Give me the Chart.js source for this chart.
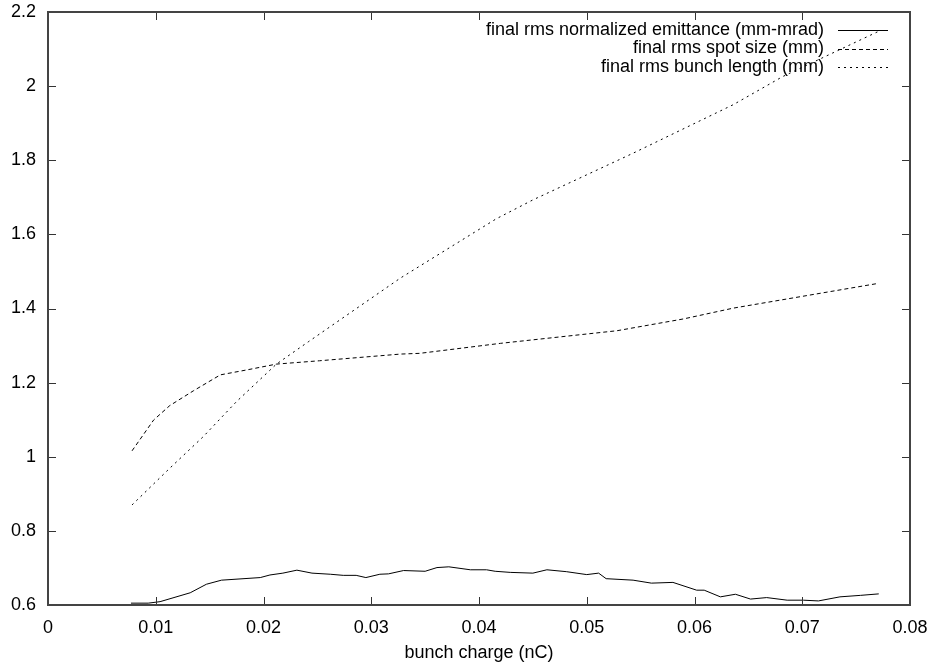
<!DOCTYPE html>
<html>
<head>
<meta charset="utf-8">
<script src="https://cdn.jsdelivr.net/npm/chart.js@4/dist/chart.umd.min.js"></script>
<style>
  html, body { margin: 0; padding: 0; background: #fff; }
  #wrap { width: 932px; height: 664px; }
</style>
</head>
<body>
<div id="wrap"><canvas id="chart" width="932" height="664"></canvas></div>
<script>
// values
const emitX = [0.0077, 0.0093, 0.0104, 0.0132, 0.0147, 0.0161, 0.0197, 0.0206, 0.0218, 0.0231, 0.0245, 0.0262, 0.0274, 0.0286, 0.0295, 0.0308, 0.0316, 0.0330, 0.0350, 0.0361, 0.0372, 0.0392, 0.0407, 0.0415, 0.0429, 0.0450, 0.0463, 0.0481, 0.0500, 0.0511, 0.0518, 0.0543, 0.0560, 0.0580, 0.0602, 0.0609, 0.0624, 0.0638, 0.0652, 0.0667, 0.0686, 0.0701, 0.0715, 0.0735, 0.0754, 0.0771];
const emitY = [0.605, 0.605, 0.609, 0.633, 0.656, 0.667, 0.674, 0.681, 0.686, 0.694, 0.686, 0.683, 0.680, 0.680, 0.674, 0.683, 0.684, 0.693, 0.691, 0.701, 0.703, 0.695, 0.695, 0.691, 0.688, 0.686, 0.695, 0.690, 0.682, 0.686, 0.671, 0.667, 0.659, 0.661, 0.640, 0.640, 0.622, 0.629, 0.616, 0.620, 0.613, 0.613, 0.611, 0.622, 0.626, 0.630];

const spotX = [0.0078, 0.0098, 0.0113, 0.0135, 0.0160, 0.0184, 0.0212, 0.0252, 0.0327, 0.0345, 0.0420, 0.0528, 0.0590, 0.0636, 0.0771];
const spotY = [1.016, 1.099, 1.138, 1.178, 1.221, 1.234, 1.250, 1.259, 1.277, 1.279, 1.306, 1.340, 1.372, 1.401, 1.468];

const bunchX = [0.0078, 0.0113, 0.0144, 0.0175, 0.0212, 0.0242, 0.0327, 0.0416, 0.0450, 0.0543, 0.0636, 0.0682, 0.0771];
const bunchY = [0.870, 0.969, 1.054, 1.149, 1.250, 1.311, 1.482, 1.642, 1.693, 1.819, 1.950, 2.026, 2.148];

const seriesNames = ['final rms normalized emittance (mm-mrad)', 'final rms spot size (mm)', 'final rms bunch length (mm)'];
const xTitle = 'bunch charge (nC)';

const FONT = '"Liberation Sans", Arial, Helvetica, sans-serif';
const FSIZE = 18;
const toPts = (xs, ys) => xs.map((x, i) => ({ x: x, y: ys[i] }));

// gnuplot style frame, inward ticks on all four sides, and the legend
const framePlugin = {
    id: 'frame',
    afterDatasetsDraw(chart) {
        const { ctx, chartArea: a, scales } = chart;
        const tl = 8;
        ctx.save();
        ctx.strokeStyle = '#333';
        ctx.lineWidth = 1;
        scales.x.ticks.forEach(t => {
            const px = Math.round(scales.x.getPixelForValue(t.value)) + 0.5;
            ctx.beginPath();
            ctx.moveTo(px, a.bottom); ctx.lineTo(px, a.bottom - tl);
            ctx.moveTo(px, a.top); ctx.lineTo(px, a.top + tl);
            ctx.stroke();
        });
        scales.y.ticks.forEach(t => {
            const py = Math.round(scales.y.getPixelForValue(t.value)) + 0.5;
            ctx.beginPath();
            ctx.moveTo(a.left, py); ctx.lineTo(a.left + tl, py);
            ctx.moveTo(a.right, py); ctx.lineTo(a.right - tl, py);
            ctx.stroke();
        });
        ctx.lineWidth = 2;
        ctx.strokeStyle = '#444';
        ctx.strokeRect(a.left, a.top, a.right - a.left, a.bottom - a.top);

        // legend, text right aligned with sample line on the right
        ctx.font = FSIZE + 'px ' + FONT;
        ctx.fillStyle = '#000';
        ctx.textAlign = 'right';
        ctx.textBaseline = 'middle';
        ctx.lineWidth = 1;
        ctx.strokeStyle = '#000';
        chart.data.datasets.forEach((ds, i) => {
            const y = a.top + 18 + i * 18.5;
            ctx.fillText(ds.label, a.right - 86, y);
            ctx.setLineDash(ds.borderDash || []);
            ctx.beginPath();
            ctx.moveTo(a.right - 72, Math.round(y) + 0.5);
            ctx.lineTo(a.right - 22, Math.round(y) + 0.5);
            ctx.stroke();
        });
        ctx.setLineDash([]);
        ctx.restore();
    }
};

const ctx = document.getElementById('chart').getContext('2d');
const myChart = new Chart(ctx, {
    type: 'scatter',
    data: {
        datasets: [{
            label: seriesNames[0],
            data: toPts(emitX, emitY),
            borderColor: '#000',
            borderWidth: 1
        }, {
            label: seriesNames[1],
            data: toPts(spotX, spotY),
            borderColor: '#000',
            borderWidth: 1,
            borderDash: [4, 3]
        }, {
            label: seriesNames[2],
            data: toPts(bunchX, bunchY),
            borderColor: '#000',
            borderWidth: 1,
            borderDash: [2, 4]
        }]
    },
    options: {
        responsive: false,
        animation: false,
        showLine: true,
        elements: { point: { radius: 0 }, line: { tension: 0 } },
        layout: { padding: { left: 0, right: 22, top: 12, bottom: 0 } },
        plugins: {
            legend: { display: false },
            tooltip: { enabled: false }
        },
        scales: {
            x: {
                type: 'linear',
                min: 0,
                max: 0.08,
                grid: { display: false, drawTicks: false },
                border: { display: false },
                ticks: {
                    stepSize: 0.01,
                    padding: 12,
                    color: '#000',
                    font: { family: FONT, size: FSIZE },
                    callback: v => v === 0 ? '0' : (Math.round(v * 100) / 100).toFixed(2)
                },
                title: {
                    display: true,
                    text: xTitle,
                    color: '#000',
                    font: { family: FONT, size: FSIZE },
                    padding: { top: 0, bottom: 0 }
                },
                afterFit: s => { s.height = 59; s.paddingLeft = 0; s.paddingRight = 0; }
            },
            y: {
                type: 'linear',
                min: 0.6,
                max: 2.2,
                grid: { display: false, drawTicks: false },
                border: { display: false },
                ticks: {
                    stepSize: 0.2,
                    padding: 12,
                    color: '#000',
                    font: { family: FONT, size: FSIZE },
                    callback: v => String(parseFloat(v.toFixed(1)))
                },
                afterFit: s => { s.width = 48; s.paddingTop = 0; s.paddingBottom = 0; }
            }
        }
    },
    plugins: [framePlugin]
});
</script>
</body>
</html>
